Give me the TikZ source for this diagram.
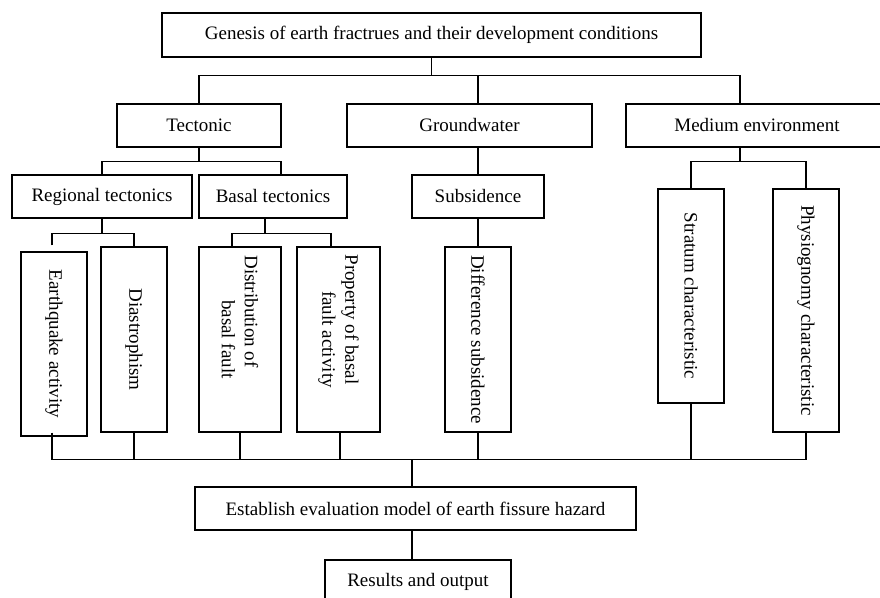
\documentclass[tikz,border=0pt]{standalone}
\usepackage{fontspec}
\setmainfont{Liberation Serif}
\usetikzlibrary{positioning}

\begin{document}
\begin{tikzpicture}[
    x=0.5pt, y=-0.5pt,
    box/.style  = {rectangle, draw, line width=0.7pt, inner sep=0pt,
                   align=center, minimum height=21.5pt,
                   font=\fontsize{9.5}{11.5}\selectfont},
    vbox/.style = {box, rotate=-90, minimum height=33pt},
    link/.style = {draw, line width=0.7pt}
]
\useasboundingbox (0,0) rectangle (880,598);
\clip (0,0) rectangle (880,598);

% ========= top levels =========
\node[box, minimum width=269.5pt, minimum height=22pt] (genesis) at (431.5,35)
    {Genesis of earth fractrues and their development conditions};
\node[box, minimum width=82pt]    (tect)   at (199,125.5) {Tectonic};
\node[box, minimum width=122.5pt] (ground) at (469.5,125.5) {Groundwater};
\node[box, minimum width=131pt]   (medium) at (757,125.5) {Medium environment};

\node[box, minimum width=90pt] (regional) at (102,196.5) {Regional tectonics};
\node[box, minimum width=74pt] (basal)    at (273,196.5) {Basal tectonics};
\node[box, minimum width=66pt] (subsid)   at (478,196.5) {Subsidence};

% ========= factor boxes (rotated: west is top, east is bottom) =========
\node[vbox, minimum width=92pt]   (quake)    at (54,344)    {Earthquake activity};
\node[vbox, minimum width=92.5pt] (diastro)  at (134,339.5) {Diastrophism};
\node[vbox, minimum width=92.5pt, minimum height=41pt] (distrib) at (240,339.5)
    {Distribution of\hspace*{28pt}\\basal fault};
\node[vbox, minimum width=92.5pt, minimum height=41.5pt] (property) at (338.5,339.5)
    {Property of basal\hspace*{20pt}\\fault activity};
\node[vbox, minimum width=92.5pt] (diffsub)  at (478,339.5) {Difference subsidence};
\node[vbox, minimum width=107pt]  (stratum)  at (691,296)   {Stratum characteristic};
\node[vbox, minimum width=121.5pt] (physio)  at (806,310.5) {Physiognomy characteristic};

% ========= evaluation =========
\node[box, minimum width=220.5pt] (model)  at (415.5,508.5)
    {Establish evaluation model of earth fissure hazard};
\node[box, minimum width=93pt]    (output) at (418,581.5) {Results and output};

% ========= tree connectors =========
\draw[link] (genesis.south) -- ++(0,18) coordinate (split);
\draw[link] (tect.north) |- ([xshift=-8.5pt]medium.north |- split)
            -- ([xshift=-8.5pt]medium.north);
\draw[link] (subsid.north |- ground.north) -- (subsid.north |- split);

\draw[link] (tect.south) -- ++(0,14) coordinate (tsplit);
\draw[link] (regional.north) |- ([xshift=4pt]basal.north |- tsplit)
            -- ([xshift=4pt]basal.north);
\draw[link] (subsid.north |- ground.south) -- (subsid.north);
\draw[link] ([xshift=-8.5pt]medium.south) -- ++(0,14) coordinate (msplit);
\draw[link] (stratum.west) |- (physio.west |- msplit) -- (physio.west);

\draw[link] (regional.south) -- ++(0,15) coordinate (rsplit);
\draw[link] ([xshift=-1pt,yshift=3pt]quake.west) |- (diastro.west |- rsplit)
            -- (diastro.west);
\draw[link] ([xshift=-4pt]basal.south) -- ++(0,15) coordinate (bsplit);
\draw[link] ([xshift=-4pt]distrib.west) |- ([xshift=-3.75pt]property.west |- bsplit)
            -- ([xshift=-3.75pt]property.west);
\draw[link] (subsid.south) -- (diffsub.west);

% ========= merge into the model =========
\draw[link] ([xshift=-1.75pt]model.north) -- ++(0,-27) coordinate (merge);
\draw[link] ([xshift=-1pt,yshift=2pt]quake.east) |- (physio.east |- merge)
            -- (physio.east);
\draw[link] (diastro.east)  -- (diastro.east |- merge);
\draw[link] (distrib.east)  -- (distrib.east |- merge);
\draw[link] ([xshift=0.75pt]property.east) -- ([xshift=0.75pt]property.east |- merge);
\draw[link] (diffsub.east)  -- (diffsub.east |- merge);
\draw[link] (stratum.east)  -- (stratum.east |- merge);
\draw[link] ([xshift=-1.75pt]model.south) -- ([xshift=-1.75pt]model.south |- output.north);

\end{tikzpicture}
\end{document}
